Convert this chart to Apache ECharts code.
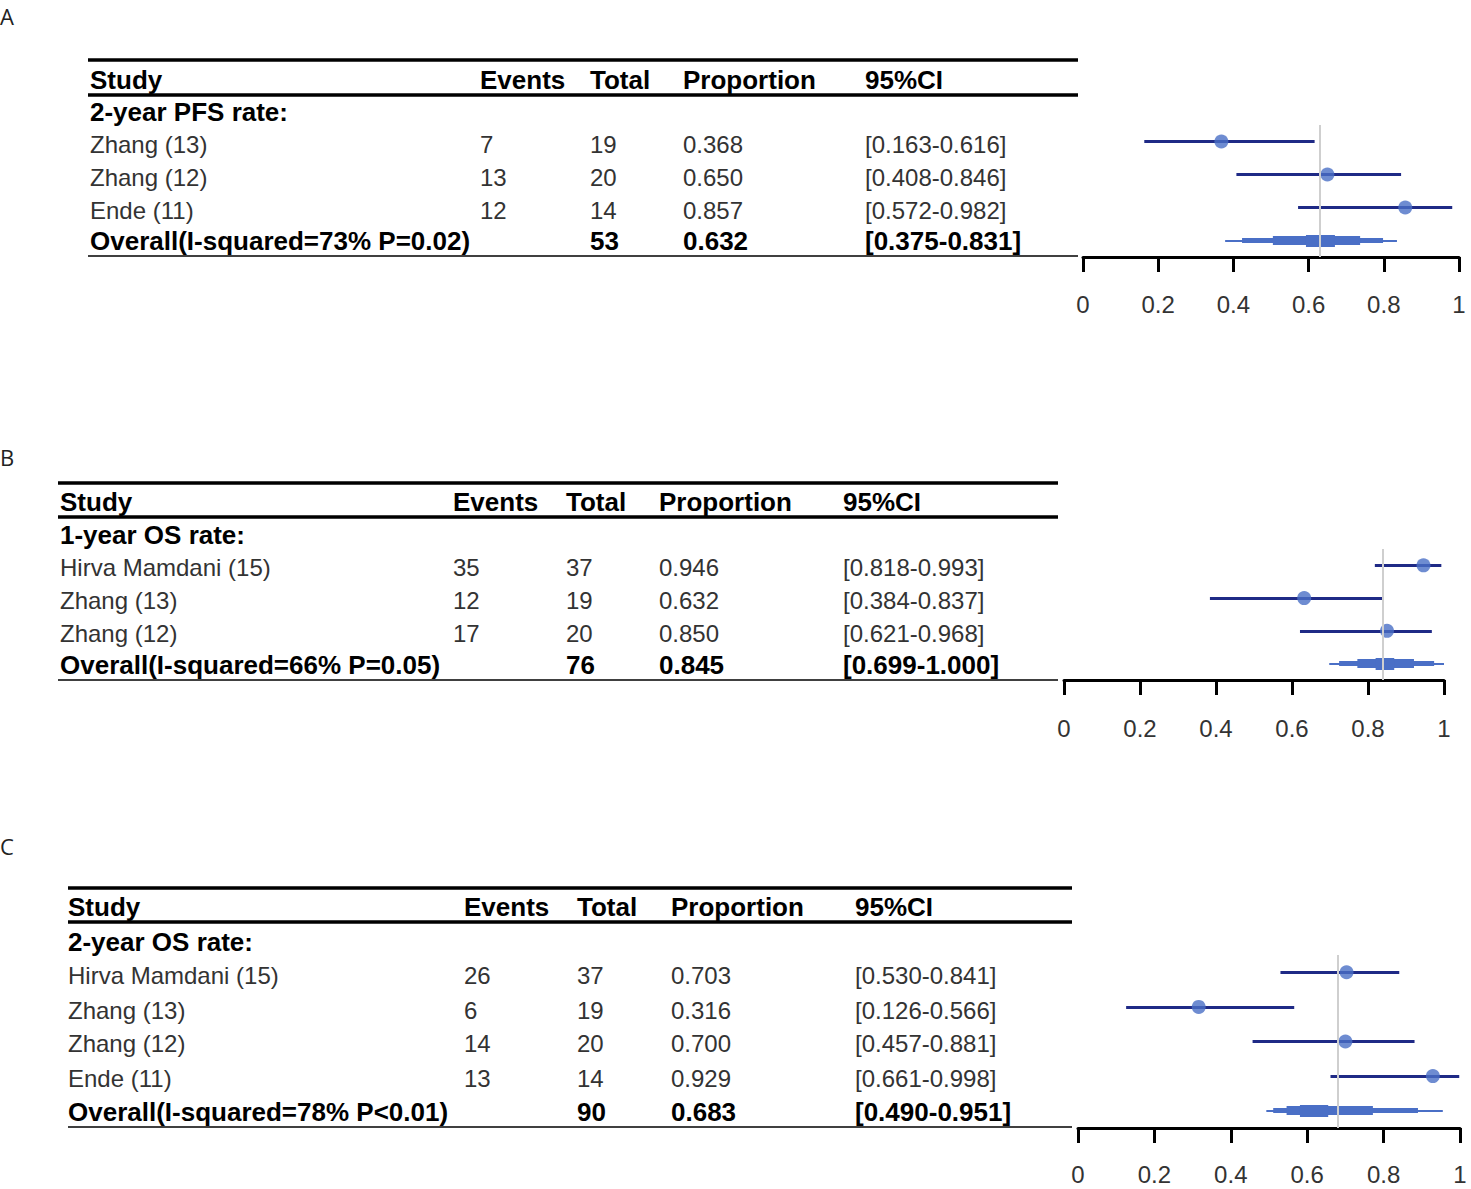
<!DOCTYPE html>
<html>
<head>
<meta charset="utf-8">
<script src="https://cdn.jsdelivr.net/npm/echarts@6/dist/echarts.min.js"></script>
<style>
html,body{margin:0;padding:0;background:#fff;}
#chart{width:1471px;height:1189px;}
</style>
</head>
<body>
<div id="chart"></div>
<script>
// ---- data ----
var headers = ['Study', 'Events', 'Total', 'Proportion', '95%CI'];
var tickLabels = ['0', '0.2', '0.4', '0.6', '0.8', '1'];

// A: 2-year PFS
var titleA = '2-year PFS rate:';
var studiesA = ['Zhang (13)', 'Zhang (12)', 'Ende (11)'];
var eventsA = [7, 13, 12];
var totalA = [19, 20, 14];
var propA = [0.368, 0.650, 0.857];
var lowA = [0.163, 0.408, 0.572];
var highA = [0.616, 0.846, 0.982];
var overallLabelA = 'Overall(I-squared=73% P=0.02)';
var overallTotalA = 53;
var overallPropA = 0.632;
var overallLowA = 0.375;
var overallHighA = 0.831;
var bandA = [[0.378, 0.835], [0.423, 0.798], [0.505, 0.737], [0.593, 0.670]];

// B: 1-year OS
var titleB = '1-year OS rate:';
var studiesB = ['Hirva Mamdani (15)', 'Zhang (13)', 'Zhang (12)'];
var eventsB = [35, 12, 17];
var totalB = [37, 19, 20];
var propB = [0.946, 0.632, 0.850];
var lowB = [0.818, 0.384, 0.621];
var highB = [0.993, 0.837, 0.968];
var overallLabelB = 'Overall(I-squared=66% P=0.05)';
var overallTotalB = 76;
var overallPropB = 0.845;
var overallLowB = 0.699;
var overallHighB = 1.000;
var bandB = [[0.698, 1.0], [0.724, 0.974], [0.772, 0.921], [0.82, 0.869]];

// C: 2-year OS
var titleC = '2-year OS rate:';
var studiesC = ['Hirva Mamdani (15)', 'Zhang (13)', 'Zhang (12)', 'Ende (11)'];
var eventsC = [26, 6, 14, 13];
var totalC = [37, 19, 20, 14];
var propC = [0.703, 0.316, 0.700, 0.929];
var lowC = [0.530, 0.126, 0.457, 0.661];
var highC = [0.841, 0.566, 0.881, 0.998];
var overallLabelC = 'Overall(I-squared=78% P<0.01)';
var overallTotalC = 90;
var overallPropC = 0.683;
var overallLowC = 0.490;
var overallHighC = 0.951;
var bandC = [[0.493, 0.955], [0.511, 0.890], [0.546, 0.772], [0.581, 0.655]];

// ---- layout / style ----
var bandWidths = [2, 5, 9, 12];
var ciColor = '#1f2a86';
var dotColor = '#4a6fc6';
var FONT = '"Liberation Sans", Arial, sans-serif';

var panels = [
    {letter: 'A', letterY: 16, title: titleA, studies: studiesA, events: eventsA, total: totalA, prop: propA, low: lowA, high: highA,
     oLabel: overallLabelA, oTotal: overallTotalA, oProp: overallPropA, oLow: overallLowA, oHigh: overallHighA, band: bandA,
     tLeft: 88, tRight: 1078, cols: [90, 480, 590, 683, 865], lineTop: 60, lineMid: 95, lineBot: 256,
     headY: 80, subY: 112, rowY: [144, 177, 210], oY: 241,
     gLeft: 1083, gWidth: 376, gTop: 125, gHeight: 132, labelMargin: 35},
    {letter: 'B', letterY: 457, title: titleB, studies: studiesB, events: eventsB, total: totalB, prop: propB, low: lowB, high: highB,
     oLabel: overallLabelB, oTotal: overallTotalB, oProp: overallPropB, oLow: overallLowB, oHigh: overallHighB, band: bandB,
     tLeft: 58, tRight: 1058, cols: [60, 453, 566, 659, 843], lineTop: 483, lineMid: 517, lineBot: 680,
     headY: 502, subY: 535, rowY: [567, 600, 633], oY: 665,
     gLeft: 1064, gWidth: 380, gTop: 549, gHeight: 131, labelMargin: 36},
    {letter: 'C', letterY: 846, title: titleC, studies: studiesC, events: eventsC, total: totalC, prop: propC, low: lowC, high: highC,
     oLabel: overallLabelC, oTotal: overallTotalC, oProp: overallPropC, oLow: overallLowC, oHigh: overallHighC, band: bandC,
     tLeft: 68, tRight: 1072, cols: [68, 464, 577, 671, 855], lineTop: 888, lineMid: 922, lineBot: 1127,
     headY: 907, subY: 942, rowY: [975, 1010, 1043, 1078], oY: 1112,
     gLeft: 1078, gWidth: 382, gTop: 955, gHeight: 173, labelMargin: 34}
];

function ci(lo, hi) {
    return '[' + lo.toFixed(3) + '-' + hi.toFixed(3) + ']';
}

function txt(x, y, s, bold, size, color, family) {
    return {
        type: 'text', x: x, y: y, silent: true,
        style: {
            text: s, fill: color || (bold ? '#000' : '#333'),
            font: (bold ? 'bold ' : '') + (size || (bold ? 26 : 24)) + 'px ' + (family || FONT),
            verticalAlign: 'middle', align: 'left'
        }
    };
}
function hline(x1, x2, y, w) {
    return {type: 'line', silent: true, shape: {x1: x1, y1: y, x2: x2, y2: y}, style: {stroke: '#000', lineWidth: w}};
}

var grids = [], xAxes = [], yAxes = [], series = [], graphics = [];

panels.forEach(function (p, k) {
    var n = p.studies.length;
    grids.push({left: p.gLeft, top: p.gTop, width: p.gWidth, height: p.gHeight});
    xAxes.push({
        gridIndex: k, type: 'value', min: 0, max: 1, interval: 0.2, position: 'bottom',
        splitLine: {show: false},
        axisLine: {show: true, onZero: false, lineStyle: {color: '#000', width: 3}},
        axisTick: {show: true, length: 15, lineStyle: {color: '#000', width: 3}},
        axisLabel: {
            margin: p.labelMargin, fontSize: 24, color: '#333', fontFamily: FONT,
            formatter: function (v) { return tickLabels[Math.round(v * 5)]; }
        }
    });
    yAxes.push({gridIndex: k, type: 'value', min: -0.5, max: n + 0.5, inverse: true, show: false});

    // reference line at the overall estimate
    series.push({
        type: 'line', xAxisIndex: k, yAxisIndex: k, data: [], z: 1, silent: true,
        markLine: {
            symbol: 'none', silent: true, label: {show: false},
            lineStyle: {color: '#cfcfcf', width: 2, type: 'solid'},
            data: [{xAxis: p.oProp}]
        }
    });
    // study confidence intervals
    series.push({
        type: 'lines', coordinateSystem: 'cartesian2d', xAxisIndex: k, yAxisIndex: k, z: 3, silent: true,
        lineStyle: {color: ciColor, width: 3, opacity: 1},
        data: p.studies.map(function (s, i) {
            return {coords: [[p.low[i], i], [p.high[i], i]]};
        })
    });
    // overall band
    series.push({
        type: 'lines', coordinateSystem: 'cartesian2d', xAxisIndex: k, yAxisIndex: k, z: 3, silent: true,
        data: p.band.map(function (b, j) {
            return {coords: [[b[0], n], [b[1], n]], lineStyle: {color: dotColor, width: bandWidths[j], opacity: 1}};
        })
    });
    // point estimates
    series.push({
        type: 'scatter', xAxisIndex: k, yAxisIndex: k, z: 4, silent: true,
        symbol: 'circle', symbolSize: 14, itemStyle: {color: dotColor},
        data: p.prop.map(function (v, i) { return [v, i]; })
    });

    // table
    graphics.push(txt(0, p.letterY, p.letter, false, 22, '#222', '"Open Sans", "DejaVu Sans", sans-serif'));
    graphics.push(hline(p.tLeft, p.tRight, p.lineTop, 3.5));
    graphics.push(hline(p.tLeft, p.tRight, p.lineMid, 3.5));
    graphics.push(hline(p.tLeft, p.tRight, p.lineBot, 1.5));
    headers.forEach(function (h, c) {
        graphics.push(txt(p.cols[c], p.headY, h, true));
    });
    graphics.push(txt(p.cols[0], p.subY, p.title, true));
    p.studies.forEach(function (s, i) {
        var y = p.rowY[i];
        graphics.push(txt(p.cols[0], y, s));
        graphics.push(txt(p.cols[1], y, String(p.events[i])));
        graphics.push(txt(p.cols[2], y, String(p.total[i])));
        graphics.push(txt(p.cols[3], y, p.prop[i].toFixed(3)));
        graphics.push(txt(p.cols[4], y, ci(p.low[i], p.high[i])));
    });
    graphics.push(txt(p.cols[0], p.oY, p.oLabel, true));
    graphics.push(txt(p.cols[2], p.oY, String(p.oTotal), true));
    graphics.push(txt(p.cols[3], p.oY, p.oProp.toFixed(3), true));
    graphics.push(txt(p.cols[4], p.oY, ci(p.oLow, p.oHigh), true));
});

var chart = echarts.init(document.getElementById('chart'), null, {renderer: 'svg'});
chart.setOption({
    animation: false,
    backgroundColor: '#fff',
    grid: grids,
    xAxis: xAxes,
    yAxis: yAxes,
    series: series,
    graphic: graphics
});
</script>
</body>
</html>
